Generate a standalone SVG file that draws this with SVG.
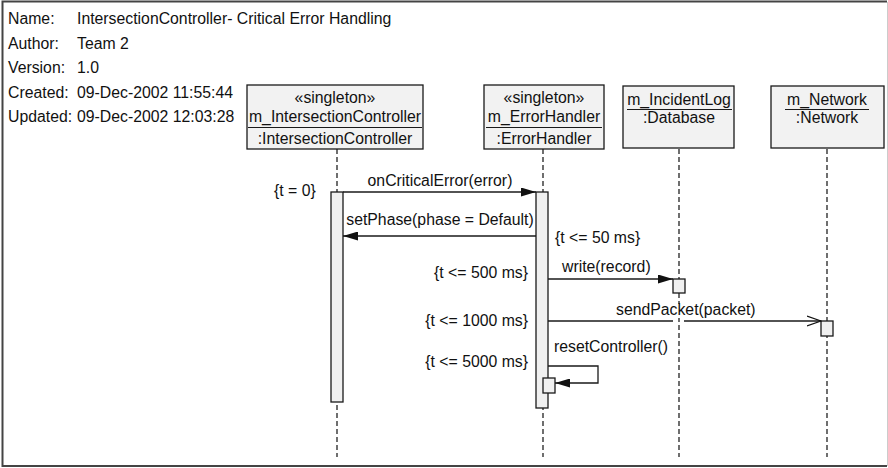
<svg xmlns="http://www.w3.org/2000/svg" width="888" height="468" viewBox="0 0 888 468">
<style>
text{font-family:"Liberation Sans",Arial,Helvetica,sans-serif;font-size:15.8px;fill:#111}
.c{text-anchor:middle}
.r{text-anchor:end}
.box{fill:#f2f2f2;stroke:#1a1a1a;stroke-width:1.3}
.act{fill:#f0f0f0;stroke:#1a1a1a;stroke-width:1.3}
.life{stroke:#222;stroke-width:1.3;stroke-dasharray:5 3;fill:none}
.msg{stroke:#1a1a1a;stroke-width:1.3;fill:none}
.ul{stroke:#1a1a1a;stroke-width:1.2}
</style>
<defs>
<marker id="fa" markerWidth="15" markerHeight="9" refX="15" refY="4.5" orient="auto" markerUnits="userSpaceOnUse">
<path d="M0,0 L15,4.5 L0,9 Z" fill="#111"/>
</marker>
<marker id="oa" markerWidth="15" markerHeight="12" refX="14" refY="6" orient="auto" markerUnits="userSpaceOnUse">
<path d="M0,1 L14,6 L0,11" fill="none" stroke="#111" stroke-width="1.3"/>
</marker>
</defs>
<rect width="888" height="468" fill="#fff"/>
<path d="M887,1.5 H2.5 V466 H887" fill="none" stroke="#444" stroke-width="2"/>
<line x1="887.5" y1="2" x2="887.5" y2="466" stroke="#ccc" stroke-width="1"/>

<g id="header">
<text x="8" y="24">Name:</text><text x="77" y="24">IntersectionController- Critical Error Handling</text>
<text x="8" y="49">Author:</text><text x="77" y="49">Team 2</text>
<text x="8" y="73">Version:</text><text x="77" y="73">1.0</text>
<text x="8" y="98">Created:</text><text x="77" y="98">09-Dec-2002 11:55:44</text>
<text x="8" y="122">Updated:</text><text x="77" y="122">09-Dec-2002 12:03:28</text>
</g>

<g id="intersectionController">
<line class="life" x1="337" y1="149" x2="337" y2="457"/>
<rect class="box" x="247" y="85" width="176" height="64"/>
<text class="c" x="335" y="103">«singleton»</text>
<text class="c" x="335" y="122">m_IntersectionController</text>
<line class="ul" x1="248" y1="127.5" x2="422" y2="127.5"/>
<text class="c" x="335" y="144">:IntersectionController</text>
<rect class="act" x="331" y="192" width="12" height="210"/>
</g>

<g id="errorHandler">
<line class="life" x1="543" y1="149" x2="543" y2="457"/>
<rect class="box" x="484" y="85" width="120" height="64"/>
<text class="c" x="544" y="103">«singleton»</text>
<text class="c" x="544" y="122">m_ErrorHandler</text>
<line class="ul" x1="486" y1="127.5" x2="602" y2="127.5"/>
<text class="c" x="544" y="144">:ErrorHandler</text>
<rect class="act" x="536" y="192" width="12" height="216"/>
<rect class="act" x="543" y="378" width="12" height="15"/>
</g>

<g id="incidentLog">
<line class="life" x1="679" y1="149" x2="679" y2="457"/>
<rect class="box" x="623" y="86" width="111" height="62"/>
<text class="c" x="679" y="105">m_IncidentLog</text>
<line class="ul" x1="627" y1="109.5" x2="732" y2="109.5"/>
<text class="c" x="679" y="123">:Database</text>
<rect class="act" x="673" y="279" width="12" height="14"/>
</g>

<g id="network">
<line class="life" x1="827" y1="149" x2="827" y2="457"/>
<rect class="box" x="771" y="86" width="113" height="62"/>
<text class="c" x="827" y="105">m_Network</text>
<line class="ul" x1="785" y1="109.5" x2="869" y2="109.5"/>
<text class="c" x="827" y="123">:Network</text>
<rect class="act" x="821" y="321" width="12" height="15"/>
</g>

<g id="connectors">
<line class="msg" x1="343" y1="192" x2="536" y2="192" marker-end="url(#fa)"/>
<text class="c" x="440" y="186">onCriticalError(error)</text>
<line class="msg" x1="536" y1="236" x2="343" y2="236" marker-end="url(#fa)"/>
<text class="c" x="440" y="225">setPhase(phase = Default)</text>
<line class="msg" x1="548" y1="279" x2="673" y2="279" marker-end="url(#fa)"/>
<text x="562" y="272">write(record)</text>
<rect x="614" y="304" width="140" height="14" fill="#fff"/>
<line class="msg" x1="548" y1="321" x2="673" y2="321"/>
<line class="msg" x1="684" y1="321" x2="821" y2="321" marker-end="url(#oa)"/>
<text x="616" y="315">sendPacket(packet)</text>
<path class="msg" d="M548,366 H598 V383 H555" marker-end="url(#fa)"/>
<text x="554" y="352">resetController()</text>
</g>

<g id="constraints">
<text x="274" y="196">{t = 0}</text>
<text x="555" y="243">{t &lt;= 50 ms}</text>
<text class="r" x="528" y="278">{t &lt;= 500 ms}</text>
<text class="r" x="528" y="326">{t &lt;= 1000 ms}</text>
<text class="r" x="528" y="367">{t &lt;= 5000 ms}</text>
</g>
</svg>
